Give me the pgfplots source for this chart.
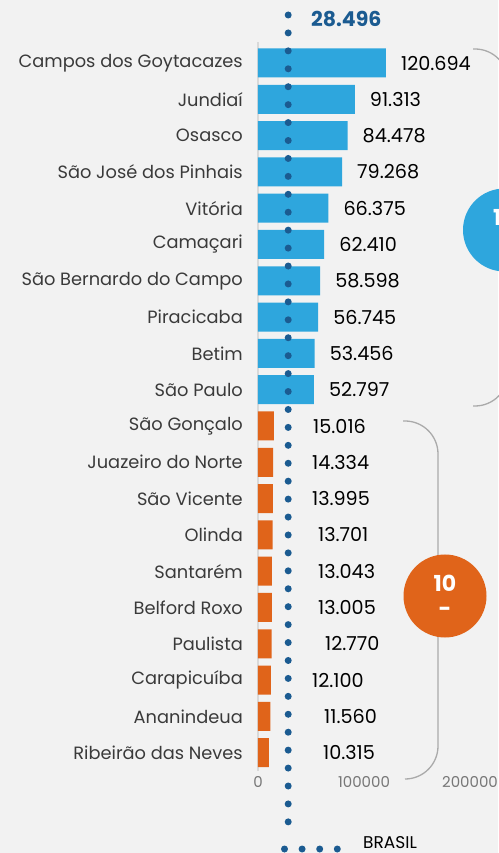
\documentclass[border=0pt]{standalone}
\usepackage{pgfplots}
\pgfplotsset{compat=1.18}
\usepackage{fontspec}
\setmainfont{Poppins}
\usetikzlibrary{backgrounds}
\definecolor{bg}{HTML}{F2F2F2}
\definecolor{barblue}{HTML}{2EA6DD}
\definecolor{barorange}{HTML}{E0641A}
\definecolor{dotblue}{HTML}{1B5B91}
\definecolor{brk}{HTML}{AAAAAA}
\definecolor{lbl}{HTML}{3A3A3A}
\definecolor{tck}{HTML}{777777}
\begin{document}
\begin{tikzpicture}
\begin{axis}[
  x=1.06pt, y=36.3pt,
  xmin=0, xmax=226, ymin=-0.504, ymax=19.578,
  clip=false,
  axis line style={draw=none},
  major tick length=0pt,
  xtick={0,100,200},
  xticklabels={0,100000,200000},
  xticklabel style={font=\fontsize{15}{15}\selectfont, text=tck, yshift=-2pt},
  ytick={0,...,19},
  yticklabels={Ribeirão das Neves,Ananindeua,Carapicuíba,Paulista,Belford Roxo,Santarém,Olinda,São Vicente,Juazeiro do Norte,São Gonçalo,São Paulo,Betim,Piracicaba,São Bernardo do Campo,Camaçari,Vitória,São José dos Pinhais,Osasco,Jundiaí,Campos dos Goytacazes},
  yticklabel style={font=\fontsize{17.8}{18}\selectfont, text=lbl, inner sep=0pt, xshift=-15pt},
  /pgf/number format/assume math mode=true,
]
\coordinate (tl) at (axis cs:-243.396,20.7355);
\coordinate (br) at (axis cs:226.415,-2.763);
\draw[gray!30, line width=1.5pt] (axis cs:0,-0.504) -- (axis cs:0,19.578);
% blue bars
\addplot[xbar, bar width=29pt, bar shift=0pt, fill=barblue, draw=none,
  point meta=x,
  nodes near coords={\pgfmathprintnumber[fixed,fixed zerofill,precision=3,assume math mode=true]{\pgfplotspointmeta}},
  every node near coord/.append style={anchor=west, inner sep=0pt, xshift=15pt, text=black, font=\fontsize{19.2}{19}\selectfont}]
  table[x=x, y=y] {
x y
120.694 19
91.313 18
84.478 17
79.268 16
66.375 15
62.410 14
58.598 13
56.745 12
53.456 11
52.797 10
};
% orange bars
\addplot[xbar, bar width=29pt, bar shift=0pt, fill=barorange, draw=none]
  table[x=x, y=y] {
x y
15.016 9
14.334 8
13.995 7
13.701 6
13.043 5
13.005 4
12.770 3
12.100 2
11.560 1
10.315 0
};
% orange value labels
\addplot[draw=none, mark=none, point meta=explicit,
  nodes near coords={\pgfmathprintnumber[fixed,fixed zerofill,precision=3,assume math mode=true]{\pgfplotspointmeta}},
  every node near coord/.append style={anchor=west, inner sep=0pt, text=black, font=\fontsize{19.2}{19}\selectfont}]
  table[x=lx, y=y, meta=v] {
lx y v
51.9 9 15.016
50.9 8 14.334
50.9 7 13.995
56.6 6 13.701
56.6 5 13.043
56.6 4 13.005
63.2 3 12.770
50.9 2 12.100
62.3 1 11.560
61.3 0 10.315
};
% Brasil reference line
\addplot[dotblue, line width=7pt, line cap=round, dash pattern=on 0pt off 17.93pt]
  coordinates {(28.496,20.322) (28.496,-1.909)};
\addplot[dotblue, line width=7pt, line cap=round, dash pattern=on 0pt off 17.6pt]
  coordinates {(25.0,-2.653) (75.2,-2.653)};
\node[anchor=west, inner sep=0pt, font=\fontsize{17}{17}\selectfont] at (axis cs:99,-2.47) {BRASIL};
\node[anchor=west, inner sep=0pt, text=dotblue, font=\bfseries\fontsize{20.5}{20}\selectfont] at (axis cs:50,20.212) {28.496};
\end{axis}
\begin{scope}[shift={(tl)}, x=1pt, y=-1pt]
  \draw[brk, line width=1.3pt, rounded corners=33pt] (403,421) -- (438,421) -- (438,779) -- (405,779);
  \fill[barorange] (445,596) circle (41.5pt);
  \node[white, font=\bfseries\fontsize{22}{22}\selectfont] at (445,583) {10};
  \node[white, font=\bfseries\fontsize{22}{22}\selectfont] at (445,612) {-};
  \draw[brk, line width=1.3pt, rounded corners=33pt] (473,49) -- (508,49) -- (508,406) -- (473,406);
  \fill[barblue] (504.5,230) circle (41.5pt);
  \node[white, font=\bfseries\fontsize{22}{22}\selectfont] at (504.5,217) {10};
  \node[white, font=\bfseries\fontsize{22}{22}\selectfont] at (504.5,246) {-};
\end{scope}
\begin{scope}[on background layer]
  \fill[bg] (tl) rectangle (br);
\end{scope}
\pgfresetboundingbox
\path[use as bounding box] (tl) rectangle (br);
\end{tikzpicture}
\end{document}
